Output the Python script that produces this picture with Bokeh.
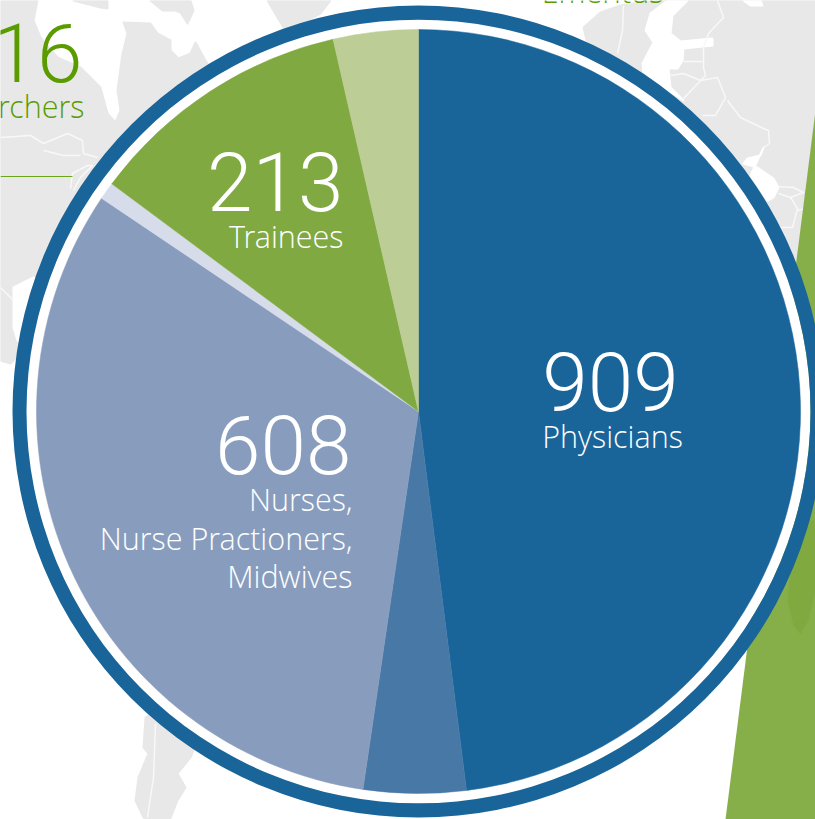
from math import pi
from bokeh.plotting import figure
from bokeh.models import Range1d
from bokeh.core.properties import value
from bokeh.embed import file_html
from bokeh.resources import INLINE

# Pie data (clockwise from 12 o'clock)
groups = ["Physicians", "Other clinical", "Nurses, Nurse Practioners, Midwives", "Other", "Trainees", "Emeritus"]
counts = [909, 82, 608, 14, 213, 68]
colors = ["#19659A", "#4878A6", "#889DBE", "#D6DCEA", "#80AA41", "#BCCD95"]

# Background map outlines (decorative, in reference pixels)
land_x = [[0, 37, 33, 40, 57, 80, 100, 107, 115, 120, 117, 122, 127, 123, 150, 157, 170, 170, 178, 190, 195, 205, 300, 30, 17, 15, 10, 0],
          [73, 107, 107, 100],
          [150, 190, 193, 187, 180, 175, 162],
          [267, 330, 320, 297, 283, 277],
          [583, 600, 620, 655, 815, 815, 790, 600],
          [145, 143, 148, 138, 135, 143, 167, 177, 185, 177, 190, 193, 170]]
land_y = [[0, 0, 20, 37, 57, 67, 87, 113, 122, 110, 90, 53, 33, 22, 23, 33, 40, 50, 58, 53, 42, 60, 200, 300, 345, 358, 363, 360],
          [0, 0, 8, 7],
          [0, 0, 10, 23, 12, 10, 10],
          [0, 0, 13, 25, 27, 17],
          [27, 12, 5, 0, 0, 110, 300, 100],
          [717, 747, 753, 777, 800, 817, 825, 800, 787, 773, 757, 750, 700]]
water_x = [[650, 645, 653, 642, 643, 683, 670, 668, 677, 682, 683, 712, 712, 680, 670, 672, 687, 667],
           [743, 750, 762, 760],
           [763, 760, 747, 743, 757, 773, 778, 773, 767, 750],
           [13, 33, 45, 30, 17, 13]]
water_y = [[13, 30, 42, 63, 73, 100, 87, 68, 68, 60, 48, 45, 38, 41, 33, 15, 0, 0],
           [0, 5, 5, 0],
           [147, 155, 158, 163, 167, 178, 187, 197, 200, 175],
           [287, 277, 290, 345, 340, 327]]
border_x = [[0, 30, 43, 67, 82, 83, 97], [43, 63, 80], [70, 72, 87, 92, 80, 73],
            [623, 622, 617], [717, 723, 708, 703, 703, 705, 683],
            [670, 683, 700, 717, 725, 715, 702], [727, 740, 763, 768, 769, 762], [683, 702],
            [778, 793, 803, 790, 778], [790, 797, 792, 778], [797, 805],
            [0, 13], [155, 153, 147]]
border_y = [[137, 135, 143, 133, 140, 153, 157], [150, 155, 155], [188, 173, 165, 165, 177, 190],
            [5, 30, 53], [0, 17, 33, 47, 67, 75, 98],
            [75, 73, 80, 77, 97, 115, 115], [100, 117, 128, 130, 143, 148], [61, 61],
            [186, 187, 192, 197, 193], [197, 208, 227, 227], [210, 208],
            [287, 300], [723, 777, 817]]
wedge_x = [815, 725, 815]
wedge_y = [110, 819, 819]
wedge_shade_x = [800, 790, 787, 793, 800, 808, 815, 815]
wedge_shade_y = [520, 570, 600, 625, 634, 620, 590, 520]

W, H = 815, 819
p = figure(width=W, height=H, output_backend="svg", toolbar_location=None,
           x_range=Range1d(0, W), y_range=Range1d(H, 0),
           min_border=0, outline_line_color=None, background_fill_color="white",
           border_fill_color="white")
p.axis.visible = False
p.grid.visible = False

p.patches(land_x, land_y, fill_color="#E8E8E8", line_color="#E8E8E8", line_width=2, line_join="round")
p.patches(water_x, water_y, fill_color="white", line_color="white", line_width=2, line_join="round")
p.multi_line(border_x, border_y, line_color="#F8F8F8", line_width=1.5, line_join="round")
p.patch(wedge_x, wedge_y, fill_color="#87AF49", line_color=None)
p.patch(wedge_shade_x, wedge_shade_y, fill_color="#80A940", line_color=None)

cx, cy = 418, 411
p.circle(x=[cx], y=[cy], radius=392, fill_color="white", line_color=None)
p.annulus(x=[cx], y=[cy], inner_radius=392, outer_radius=406, fill_color="#19659A", line_color=None)

total = sum(counts)
start = []
end = []
acc = 0
for c in counts:
    start.append(pi / 2 - acc / total * 2 * pi)
    acc += c
    end.append(pi / 2 - acc / total * 2 * pi)
p.wedge(x=[cx] * len(counts), y=[cy] * len(counts), radius=382, start_angle=start, end_angle=end,
        direction="clock", fill_color=colors, line_color=colors, line_width=0.5)

BIG = value("Roboto Light")
SMALL = value("Open Sans Light")
BIG_SIZE, SMALL_SIZE = 82, 30.5
BIG_SHIFT, SMALL_SHIFT = 27, 12

def label(x, y, s, size, font, shift, align="right", color="white"):
    p.text(x=[x], y=[y - shift], text=[s], text_font=font, text_font_size=f"{size}px",
           text_color=color, text_align=align, text_baseline="alphabetic")

label(610, 408, "909", BIG_SIZE, BIG, BIG_SHIFT, "center")
label(612, 447, "Physicians", SMALL_SIZE, SMALL, SMALL_SHIFT, "center")
label(351, 471, "608", BIG_SIZE, BIG, BIG_SHIFT)
label(352, 510, "Nurses,", SMALL_SIZE, SMALL, SMALL_SHIFT)
label(352, 549, "Nurse Practioners,", SMALL_SIZE, SMALL, SMALL_SHIFT)
label(352, 587, "Midwives", SMALL_SIZE, SMALL, SMALL_SHIFT)
label(343, 208, "213", BIG_SIZE, BIG, BIG_SHIFT)
label(343, 247, "Trainees", SMALL_SIZE, SMALL, SMALL_SHIFT)
label(82, 79, "16", BIG_SIZE, BIG, BIG_SHIFT, color="#5A9C00")
label(84, 117, "rchers", SMALL_SIZE, SMALL, SMALL_SHIFT, color="#5A9C00")
label(602, 2, "Emeritus", SMALL_SIZE, SMALL, SMALL_SHIFT, "center", color="#5A9C00")
p.line(x=[0, 72], y=[176, 176], line_color="#6AA51A", line_width=1)

open("out.html", "w").write(file_html(p, INLINE))
